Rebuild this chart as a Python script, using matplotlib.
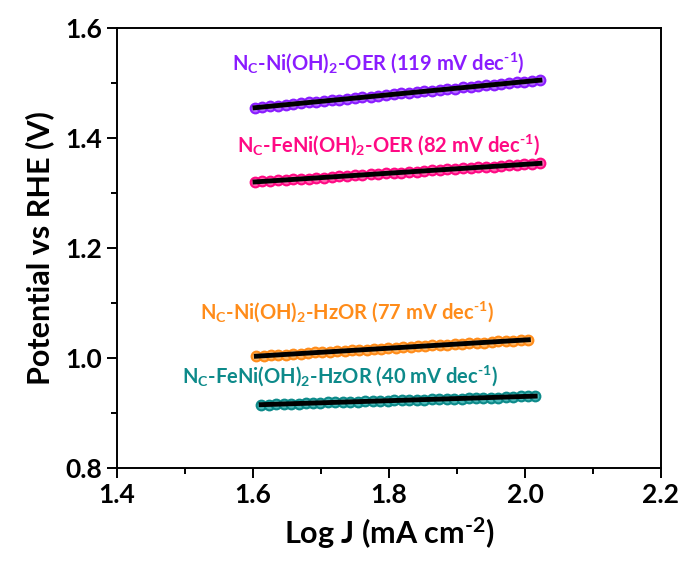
import numpy as np
import matplotlib
matplotlib.use("Agg")
import matplotlib.pyplot as plt
from matplotlib.ticker import MultipleLocator, FormatStrFormatter

plt.rcParams['font.family'] = ['Lato', 'DejaVu Sans']
plt.rcParams['font.weight'] = 'bold'
plt.rcParams['mathtext.fontset'] = 'custom'
plt.rcParams['mathtext.rm'] = 'Lato:bold'
plt.rcParams['mathtext.it'] = 'Lato:bold'
plt.rcParams['mathtext.bf'] = 'Lato:bold'
plt.rcParams['mathtext.default'] = 'rm'

# Tafel data: log J (mA cm-2) vs potential (V vs RHE)
x_oer = [1.603, 1.614, 1.625, 1.637, 1.648, 1.659, 1.671, 1.682, 1.693, 1.705,
         1.716, 1.727, 1.739, 1.750, 1.761, 1.773, 1.784, 1.795, 1.807, 1.818,
         1.829, 1.841, 1.852, 1.863, 1.875, 1.886, 1.897, 1.909, 1.920, 1.931,
         1.943, 1.954, 1.965, 1.977, 1.988, 1.999, 2.011, 2.022]
y_ni_oer = [1.455, 1.456, 1.458, 1.459, 1.460, 1.462, 1.463, 1.465, 1.466, 1.467,
            1.469, 1.470, 1.471, 1.473, 1.474, 1.475, 1.477, 1.478, 1.480, 1.481,
            1.482, 1.484, 1.485, 1.486, 1.488, 1.489, 1.490, 1.492, 1.493, 1.494,
            1.496, 1.497, 1.498, 1.500, 1.501, 1.502, 1.504, 1.505]
y_feni_oer = [1.320, 1.321, 1.322, 1.323, 1.324, 1.325, 1.326, 1.326, 1.327, 1.328,
              1.329, 1.330, 1.331, 1.332, 1.333, 1.334, 1.335, 1.336, 1.337, 1.337,
              1.338, 1.339, 1.340, 1.341, 1.342, 1.343, 1.344, 1.345, 1.346, 1.347,
              1.348, 1.348, 1.349, 1.350, 1.351, 1.352, 1.353, 1.354]

x_ni_hzor = [1.605, 1.616, 1.627, 1.637, 1.648, 1.659, 1.670, 1.681, 1.691, 1.702,
             1.713, 1.724, 1.735, 1.745, 1.756, 1.767, 1.778, 1.789, 1.799, 1.810,
             1.821, 1.832, 1.843, 1.853, 1.864, 1.875, 1.886, 1.897, 1.907, 1.918,
             1.929, 1.940, 1.951, 1.961, 1.972, 1.983, 1.994, 2.005]
y_ni_hzor = [1.003, 1.004, 1.005, 1.006, 1.006, 1.007, 1.008, 1.009, 1.010, 1.010,
             1.011, 1.012, 1.013, 1.014, 1.014, 1.015, 1.016, 1.017, 1.018, 1.018,
             1.019, 1.020, 1.021, 1.022, 1.023, 1.023, 1.024, 1.025, 1.026, 1.027,
             1.027, 1.028, 1.029, 1.030, 1.031, 1.031, 1.032, 1.033]

x_feni_hzor = [1.612, 1.623, 1.634, 1.645, 1.656, 1.667, 1.678, 1.688, 1.699, 1.710,
               1.721, 1.732, 1.743, 1.754, 1.765, 1.776, 1.787, 1.798, 1.808, 1.819,
               1.830, 1.841, 1.852, 1.863, 1.874, 1.885, 1.896, 1.907, 1.917, 1.928,
               1.939, 1.950, 1.961, 1.972, 1.983, 1.994, 2.004, 2.015]
y_feni_hzor = [0.915, 0.915, 0.916, 0.916, 0.917, 0.917, 0.918, 0.918, 0.918, 0.919,
               0.919, 0.920, 0.920, 0.920, 0.921, 0.921, 0.922, 0.922, 0.923, 0.923,
               0.923, 0.924, 0.924, 0.925, 0.925, 0.925, 0.926, 0.926, 0.927, 0.927,
               0.928, 0.928, 0.928, 0.929, 0.929, 0.930, 0.930, 0.931]

labels = [r'N$_{C}$-Ni(OH)$_{2}$-OER (119 mV dec$^{\text{-}1}$)',
          r'N$_{C}$-FeNi(OH)$_{2}$-OER (82 mV dec$^{\text{-}1}$)',
          r'N$_{C}$-Ni(OH)$_{2}$-HzOR (77 mV dec$^{\text{-}1}$)',
          r'N$_{C}$-FeNi(OH)$_{2}$-HzOR (40 mV dec$^{\text{-}1}$)']

series = [
    (x_oer, y_ni_oer, '#8a1cff', '#b36bff', (1.785, 1.524)),
    (x_oer, y_feni_oer, '#ff0a84', '#ff66b0', (1.799, 1.375)),
    (x_ni_hzor, y_ni_hzor, '#ff8c1a', '#ffb866', (1.739, 1.071)),
    (x_feni_hzor, y_feni_hzor, '#0d8a8a', '#4dbaba', (1.728, 0.955)),
]

fig = plt.figure(figsize=(6.8, 5.61), dpi=100)
ax = fig.add_axes([0.172, 0.166, 0.800, 0.784])

for (xs, ys, col, light, pos), lab in zip(series, labels):
    ax.plot(xs, ys, 'o', ms=7, mfc=light, mec=col, mew=1.5, zorder=2)
    k, b = np.polyfit(xs, ys, 1)
    xf = np.array([xs[0], xs[-1]])
    ax.plot(xf, k * xf + b, color='black', lw=3.5, zorder=3)
    ax.text(pos[0], pos[1], lab, color=col, fontsize=14.5, fontweight='bold',
            ha='center', va='baseline')

ax.set_xlim(1.4, 2.2)
ax.set_ylim(0.8, 1.6)
ax.xaxis.set_major_locator(MultipleLocator(0.2))
ax.xaxis.set_minor_locator(MultipleLocator(0.1))
ax.yaxis.set_major_locator(MultipleLocator(0.2))
ax.yaxis.set_minor_locator(MultipleLocator(0.1))
ax.xaxis.set_major_formatter(FormatStrFormatter('%.1f'))
ax.yaxis.set_major_formatter(FormatStrFormatter('%.1f'))

ax.tick_params(which='both', direction='out', top=False, right=False,
               width=1.4, labelsize=19, pad=4)
ax.tick_params(which='major', length=7)
ax.tick_params(which='minor', length=4.5)
for lab in ax.get_xticklabels() + ax.get_yticklabels():
    lab.set_fontweight('bold')
for s in ax.spines.values():
    s.set_linewidth(1.4)

ax.set_xlabel(r'Log J (mA cm$^{\text{-}2}$)', fontsize=22, fontweight='bold', labelpad=6)
ax.set_ylabel('Potential vs RHE (V)', fontsize=22, fontweight='bold', labelpad=8)

fig.savefig('out.png', dpi=100)
